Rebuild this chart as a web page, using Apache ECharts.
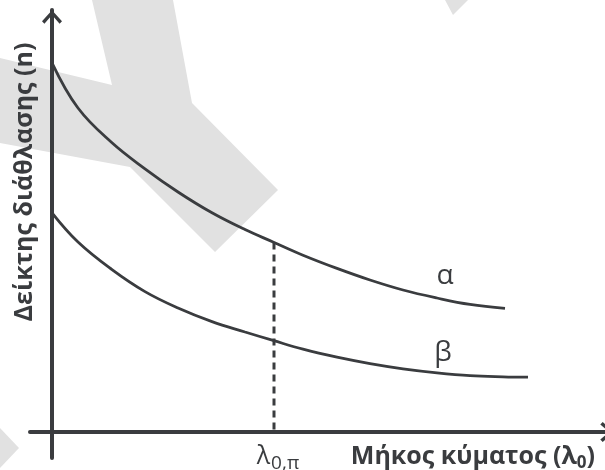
<!DOCTYPE html>
<html>
<head>
<meta charset="utf-8">
<script src="https://cdn.jsdelivr.net/npm/echarts@6/dist/echarts.min.js"></script>
<style>
  html, body { margin: 0; padding: 0; background: #fff; }
  #chart { width: 605px; height: 470px; }
</style>
</head>
<body>
<div id="chart"></div>
<script>
// wavelength (arbitrary units) and refractive index (arbitrary units)
const alphaX = [0, 5.2, 12, 18.6, 25.2, 32, 38.6, 44.2, 50.2, 57, 63.6, 70.2, 77, 83.6, 90.6];
const alphaN = [92.3, 81, 72.3, 65.8, 60, 54.8, 50.6, 47.5, 44.2, 40.9, 38, 35.5, 33.5, 31.9, 30.9];
const betaX = [0, 5.2, 12, 18.6, 25.2, 32, 38.6, 44.2, 50.2, 57, 63.6, 70.2, 77, 83.6, 90.2, 95.2];
const betaN = [54.8, 47.5, 40.6, 35.1, 31, 27.6, 25, 22.9, 20.7, 18.7, 17.1, 15.8, 14.8, 14.1, 13.8, 13.7];
const lambdaP = 44.4;
const lambdaTop = 47.4;

const ink = '#3a3c3f';
const arrowPath = 'path://M10,0 L20,11 L17.6,13.4 L10,4.6 L2.4,13.4 L0,11 Z';

const zip = (xs, ys) => xs.map((x, i) => [x, ys[i]]);

const alphaData = zip(alphaX, alphaN);
alphaData[12] = {
  value: alphaData[12],
  label: { show: true, formatter: 'α', position: 'top', distance: 8, offset: [8, 0],
    fontFamily: 'Open Sans', fontSize: 28, color: ink }
};
const betaData = zip(betaX, betaN);
betaData[12] = {
  value: betaData[12],
  label: { show: true, formatter: 'β', position: 'top', distance: 6, offset: [6, 0],
    fontFamily: 'Open Sans', fontSize: 28, color: ink }
};

const curveStyle = {
  type: 'line', smooth: 0.4,
  symbol: 'circle', symbolSize: 0, showSymbol: true, showAllSymbol: true,
  lineStyle: { color: ink, width: 2.8 }, itemStyle: { color: ink }, z: 3
};

const myChart = echarts.init(document.getElementById('chart'));

myChart.setOption({
  backgroundColor: '#fff',
  animation: false,
  grid: { left: 30, right: 0, top: 10, bottom: 12 },
  xAxis: {
    type: 'value', min: -4.4, max: 110.6,
    axisLine: { onZero: true, lineStyle: { color: ink, width: 4 },
      symbol: ['none', arrowPath], symbolSize: [20, 14], symbolOffset: [0, 2] },
    axisTick: { show: false }, axisLabel: { show: false }, splitLine: { show: false }
  },
  yAxis: {
    type: 'value', min: -6.5, max: 105.5,
    axisLine: { onZero: true, lineStyle: { color: ink, width: 4 },
      symbol: ['none', arrowPath], symbolSize: [20, 14], symbolOffset: [0, -7] },
    axisTick: { show: false }, axisLabel: { show: false }, splitLine: { show: false }
  },
  graphic: [
    // watermark
    { type: 'polygon', z: -5, silent: true,
      shape: { points: [[92, 0], [173, 0], [192, 103], [278, 190], [215, 252], [130, 167], [0, 143], [0, 58], [112, 85]] },
      style: { fill: '#e1e1e1' } },
    { type: 'polygon', z: -5, silent: true,
      shape: { points: [[445, 0], [468, 0], [453, 15]] }, style: { fill: '#e1e1e1' } },
    { type: 'polygon', z: -5, silent: true,
      shape: { points: [[0, 428], [19, 448], [0, 468]] }, style: { fill: '#e1e1e1' } },
    // axis titles
    { type: 'text', x: 25, y: 182, rotation: Math.PI / 2,
      style: { text: 'Δείκτης διάθλασης (n)', fill: ink, align: 'center', verticalAlign: 'middle',
        font: 'bold 25px "Open Sans"' } },
    { type: 'text', x: 595, y: 457,
      style: {
        text: '{t|Μήκος κύματος (λ}{s|0}{t|)}', align: 'right', verticalAlign: 'middle',
        rich: {
          t: { fill: ink, font: 'bold 25px "Open Sans"' },
          s: { fill: ink, font: 'bold 17px "Open Sans"', padding: [12, 0, 0, 0] }
        }
      } }
  ],
  series: [
    Object.assign({ name: 'α', data: alphaData }, curveStyle),
    Object.assign({ name: 'β', data: betaData }, curveStyle),
    {
      name: 'λ0π', type: 'line', symbol: 'circle', symbolSize: 0, showSymbol: true, z: 2,
      data: [
        { value: [lambdaP, 0.6], label: {
          show: true, position: 'bottom', distance: 12, offset: [4, 0],
          formatter: '{a|λ}{b|0,π}',
          rich: {
            a: { fontFamily: 'Open Sans', fontSize: 25, color: ink },
            b: { fontFamily: 'Open Sans', fontSize: 19, color: ink, padding: [12, 0, 0, 1] }
          }
        } },
        [lambdaP, lambdaTop]
      ],
      itemStyle: { color: ink },
      lineStyle: { color: ink, width: 3, type: [7, 5] }
    }
  ]
});

window.addEventListener('resize', () => {
  myChart.resize();
});
</script>
</body>
</html>
